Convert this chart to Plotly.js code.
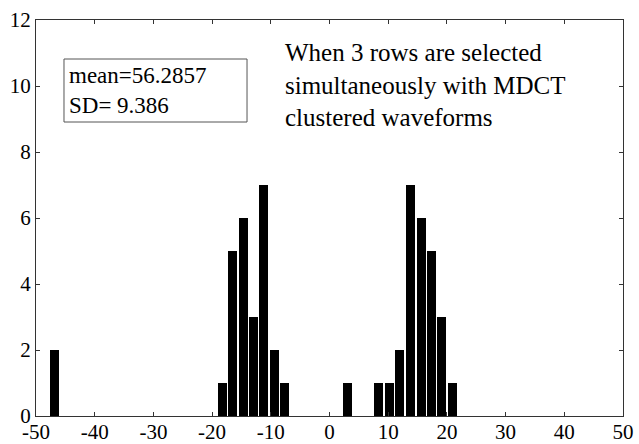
<!DOCTYPE html>
<html>
<head>
<meta charset="utf-8">
<script src="https://cdn.plot.ly/plotly-3.0.1.min.js"></script>
<style>
  html, body { margin: 0; padding: 0; background: #fff; }
  #chart { width: 639px; height: 444px; }
</style>
</head>
<body>
<div id="chart"></div>
<script>
// Histogram bin centres and counts
const binCenters = [-46.8, -18.3, -16.5, -14.7, -12.9, -11.2, -9.4, -7.6,
                    3.1, 8.4, 10.2, 12.0, 13.8, 15.6, 17.3, 19.1, 20.9];
const counts     = [2, 1, 5, 6, 3, 7, 2, 1,
                    1, 1, 1, 2, 7, 6, 5, 3, 1];

const xTicks = [-50, -40, -30, -20, -10, 0, 10, 20, 30, 40, 50];
const yTicks = [0, 2, 4, 6, 8, 10, 12];

const statsText = ['mean=56.2857', 'SD= 9.386'];
const noteText = ['When 3 rows are selected', 'simultaneously with MDCT', 'clustered waveforms'];

const serif = 'Liberation Serif, Times New Roman, serif';

const trace = {
  type: 'bar',
  x: binCenters,
  y: counts,
  width: 1.55,
  marker: { color: '#000', line: { width: 0 } },
  hoverinfo: 'x+y'
};

const axisCommon = {
  showline: true,
  linecolor: '#333',
  linewidth: 1,
  mirror: 'ticks',
  ticks: 'inside',
  ticklen: 4,
  tickcolor: '#333',
  showgrid: false,
  zeroline: false,
  tickfont: { family: serif, size: 21, color: '#000' }
};

const layout = {
  width: 639,
  height: 444,
  margin: { l: 36, r: 16, t: 20, b: 28 },
  paper_bgcolor: '#fff',
  plot_bgcolor: '#fff',
  showlegend: false,
  bargap: 0,
  font: { family: serif, color: '#000' },
  xaxis: Object.assign({}, axisCommon, {
    range: [-50, 50],
    tickvals: xTicks,
    ticktext: xTicks.map(String),
    ticklabelstandoff: -3
  }),
  yaxis: Object.assign({}, axisCommon, {
    range: [0, 12],
    tickvals: yTicks,
    ticktext: yTicks.map(String),
    ticklabelstandoff: 0
  }),
  // frame around the statistics text
  shapes: [
    {
      type: 'rect', xref: 'paper', yref: 'paper',
      x0: 0.0477, x1: 0.3595, y0: 0.7424, y1: 0.9015,
      line: { color: '#555', width: 1 },
      fillcolor: 'rgba(0,0,0,0)'
    }
  ],
  annotations: [
    {
      xref: 'paper', yref: 'paper',
      x: 0.053, y: 0.823,
      xanchor: 'left', yanchor: 'middle',
      text: statsText.join('<br>'),
      align: 'left',
      showarrow: false,
      font: { family: serif, size: 23, color: '#000' }
    },
    {
      xref: 'paper', yref: 'paper',
      x: 0.42, y: 0.957,
      xanchor: 'left', yanchor: 'top',
      text: noteText.join('<br>'),
      align: 'left',
      showarrow: false,
      font: { family: serif, size: 25, color: '#000' }
    }
  ]
};

Plotly.newPlot('chart', [trace], layout, { displayModeBar: false, staticPlot: true });
</script>
</body>
</html>
